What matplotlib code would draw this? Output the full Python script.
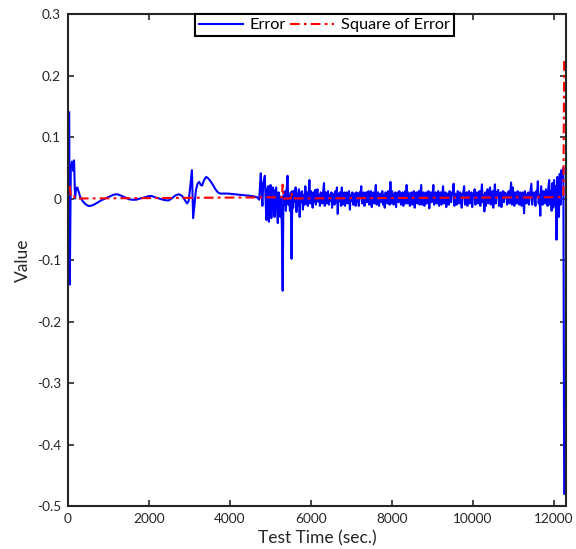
import matplotlib
matplotlib.use("Agg")
import matplotlib.pyplot as plt

plt.rcParams['font.family'] = ['Lato', 'DejaVu Sans']
plt.rcParams['lines.scale_dashes'] = False

# ---- data ----
early_time = [30, 45, 70, 100, 130, 150, 175, 200, 230, 260,
              300, 360, 430, 500, 560, 640, 720, 820, 920, 1020,
              1120, 1210, 1300, 1400, 1500, 1580, 1680, 1780, 1900, 2000,
              2070, 2150, 2250, 2350, 2430, 2490, 2560, 2650, 2740, 2820,
              2900, 2940, 2980, 3020, 3060, 3090, 3130, 3160, 3200, 3240,
              3280, 3310, 3360, 3410, 3460, 3520, 3580, 3640, 3700, 3760,
              3850, 3950, 4100, 4250, 4400, 4550, 4670, 4720]
early_error = [0.140, -0.140, 0.050, 0.060, 0.045, 0.062, 0.000, 0.015, 0.018, 0.012,
               0.003, -0.004, -0.009, -0.012, -0.012, -0.010, -0.007, -0.003, 0.000, 0.003,
               0.006, 0.007, 0.005, 0.002, -0.001, -0.002, -0.002, 0.000, 0.002, 0.004,
               0.004, 0.002, 0.000, -0.002, -0.003, -0.003, 0.000, 0.005, 0.007, 0.004,
               -0.004, -0.008, -0.004, 0.020, 0.046, -0.032, -0.005, 0.014, 0.024, 0.027,
               0.022, 0.021, 0.030, 0.035, 0.033, 0.028, 0.022, 0.015, 0.010, 0.008,
               0.008, 0.008, 0.007, 0.006, 0.005, 0.004, 0.002, -0.002]

noisy_time = [
    4760, 4780, 4800, 4820, 4840, 4860, 4880, 4900, 4920, 4940, 4960, 4980, 5000, 5020, 5040, 5060, 5080, 5100, 5120, 5140,
    5160, 5180, 5200, 5220, 5240, 5260, 5280, 5300, 5320, 5340, 5360, 5380, 5400, 5420, 5440, 5460, 5480, 5500, 5520, 5540,
    5560, 5580, 5600, 5620, 5640, 5660, 5680, 5700, 5720, 5740, 5760, 5780, 5800, 5820, 5840, 5860, 5880, 5900, 5920, 5940,
    5960, 5980, 6000, 6020, 6040, 6060, 6080, 6100, 6120, 6140, 6160, 6180, 6200, 6220, 6240, 6260, 6280, 6300, 6320, 6340,
    6360, 6380, 6400, 6420, 6440, 6460, 6480, 6500, 6520, 6540, 6560, 6580, 6600, 6620, 6640, 6660, 6680, 6700, 6720, 6740,
    6760, 6780, 6800, 6820, 6840, 6860, 6880, 6900, 6920, 6940, 6960, 6980, 7000, 7020, 7040, 7060, 7080, 7100, 7120, 7140,
    7160, 7180, 7200, 7220, 7240, 7260, 7280, 7300, 7320, 7340, 7360, 7380, 7400, 7420, 7440, 7460, 7480, 7500, 7520, 7540,
    7560, 7580, 7600, 7620, 7640, 7660, 7680, 7700, 7720, 7740, 7760, 7780, 7800, 7820, 7840, 7860, 7880, 7900, 7920, 7940,
    7960, 7980, 8000, 8020, 8040, 8060, 8080, 8100, 8120, 8140, 8160, 8180, 8200, 8220, 8240, 8260, 8280, 8300, 8320, 8340,
    8360, 8380, 8400, 8420, 8440, 8460, 8480, 8500, 8520, 8540, 8560, 8580, 8600, 8620, 8640, 8660, 8680, 8700, 8720, 8740,
    8760, 8780, 8800, 8820, 8840, 8860, 8880, 8900, 8920, 8940, 8960, 8980, 9000, 9020, 9040, 9060, 9080, 9100, 9120, 9140,
    9160, 9180, 9200, 9220, 9240, 9260, 9280, 9300, 9320, 9340, 9360, 9380, 9400, 9420, 9440, 9460, 9480, 9500, 9520, 9540,
    9560, 9580, 9600, 9620, 9640, 9660, 9680, 9700, 9720, 9740, 9760, 9780, 9800, 9820, 9840, 9860, 9880, 9900, 9920, 9940,
    9960, 9980, 10000, 10020, 10040, 10060, 10080, 10100, 10120, 10140, 10160, 10180, 10200, 10220, 10240, 10260, 10280, 10300, 10320, 10340,
    10360, 10380, 10400, 10420, 10440, 10460, 10480, 10500, 10520, 10540, 10560, 10580, 10600, 10620, 10640, 10660, 10680, 10700, 10720, 10740,
    10760, 10780, 10800, 10820, 10840, 10860, 10880, 10900, 10920, 10940, 10960, 10980, 11000, 11020, 11040, 11060, 11080, 11100, 11120, 11140,
    11160, 11180, 11200, 11220, 11240, 11260, 11280, 11300, 11320, 11340, 11360, 11380, 11400, 11420, 11440, 11460, 11480, 11500, 11520, 11540,
    11560, 11580, 11600, 11620, 11640, 11660, 11680, 11700, 11720, 11740, 11760, 11780, 11800, 11820, 11840, 11860, 11880, 11900, 11920, 11940,
    11960, 11980, 12000, 12020, 12040, 12060, 12080, 12100, 12120, 12140, 12160, 12180, 12200, 12230, 12250]
noisy_error = [
    0.041, 0.010, -0.012, 0.025, 0.030, 0.037, -0.005, -0.035, 0.015, 0.020, -0.038, 0.005, 0.022, -0.032, -0.010, 0.018, 0.008, -0.030, 0.012, 0.018,
    -0.015, -0.040, 0.010, 0.004, -0.030, 0.002, -0.045, -0.150, 0.005, -0.010, 0.012, -0.020, 0.015, 0.037, -0.010, 0.005, -0.020, 0.010, -0.098, 0.012,
    -0.015, 0.012, -0.005, 0.018, -0.022, 0.008, -0.012, 0.015, -0.030, 0.010, -0.005, 0.012, -0.018, 0.006, -0.010, 0.020, -0.008, 0.010, -0.012, 0.005,
    0.030, -0.008, 0.012, 0.004, -0.015, 0.010, -0.006, 0.014, -0.010, 0.008, 0.015, -0.005, 0.006, -0.012, 0.010, 0.002, -0.008, 0.012, 0.025, -0.012,
    0.010, -0.008, 0.004, 0.012, -0.010, 0.006, -0.004, 0.010, -0.015, 0.008, 0.003, -0.010, 0.012, -0.006, 0.018, -0.025, 0.008, -0.004, 0.010, -0.012,
    0.018, -0.010, 0.005, 0.010, -0.012, 0.004, 0.010, -0.008, 0.006, 0.012, -0.018, 0.006, -0.004, 0.010, -0.010, 0.008, 0.002, -0.012, 0.010, -0.006,
    0.008, -0.012, 0.010, 0.004, 0.020, -0.008, 0.006, 0.010, -0.012, 0.004, 0.010, -0.006, 0.008, 0.012, -0.010, 0.005, 0.012, -0.014, 0.006, 0.010,
    -0.008, 0.006, 0.022, -0.010, 0.008, 0.010, -0.012, 0.004, 0.008, -0.006, 0.012, -0.010, 0.006, -0.015, 0.010, 0.005, -0.008, 0.012, 0.006, -0.010,
    0.027, -0.008, 0.012, 0.004, -0.010, 0.008, 0.010, -0.014, 0.006, 0.010, -0.006, 0.012, 0.004, -0.010, 0.008, 0.010, -0.012, 0.006, 0.012, -0.008,
    0.022, -0.008, 0.010, 0.004, -0.012, 0.008, 0.010, -0.010, 0.005, 0.012, -0.015, 0.006, 0.010, -0.008, 0.004, 0.012, -0.010, 0.006, 0.022, -0.010,
    0.008, 0.010, -0.012, 0.006, 0.010, -0.008, 0.004, 0.012, -0.016, 0.008, 0.010, -0.006, 0.004, 0.022, -0.010, 0.008, 0.010, -0.008, 0.005, 0.012,
    -0.012, 0.008, 0.010, -0.010, 0.006, 0.020, -0.008, 0.004, 0.010, -0.014, 0.008, 0.006, -0.010, 0.012, 0.004, -0.006, 0.010, 0.008, 0.024, -0.012,
    0.008, 0.004, -0.010, 0.012, 0.006, -0.008, 0.010, 0.004, -0.015, 0.008, 0.010, 0.020, -0.010, 0.006, 0.010, -0.012, 0.004, 0.012, -0.008, 0.006,
    0.010, -0.014, 0.008, 0.004, 0.015, -0.010, 0.006, 0.010, -0.008, 0.004, 0.012, -0.012, 0.008, 0.023, -0.006, 0.005, -0.021, 0.010, -0.012, 0.008,
    0.015, -0.008, 0.006, 0.018, -0.010, 0.004, 0.012, -0.015, 0.008, 0.023, -0.008, 0.010, 0.006, 0.014, -0.012, 0.004, 0.010, -0.014, 0.008, 0.012,
    -0.006, 0.010, 0.004, 0.008, -0.010, 0.006, 0.012, -0.008, 0.010, 0.026, -0.010, 0.018, 0.006, -0.012, 0.010, 0.004, -0.008, 0.012, 0.006, -0.010,
    0.010, 0.004, -0.012, 0.010, 0.006, -0.024, 0.012, 0.004, -0.008, 0.006, 0.010, -0.010, 0.004, 0.014, 0.024, -0.010, 0.006, 0.010, 0.004, -0.012,
    0.012, 0.006, 0.028, -0.008, 0.006, -0.028, 0.020, 0.004, -0.010, 0.012, 0.006, -0.008, 0.015, 0.004, -0.012, 0.018, 0.030, -0.010, 0.012, -0.020,
    0.025, -0.015, 0.030, -0.010, 0.020, -0.067, 0.035, 0.010, -0.030, 0.040, -0.010, 0.046, 0.030, 0.050, -0.480]

square_time = [30, 45, 70, 150, 175, 5280, 5300, 5320, 5500, 5520, 5540,
               12200, 12230, 12250]
square_value = [0.0196, 0.0196, 0.0025, 0.0038, 0.0, 0.002, 0.0225, 0.0,
                0.0001, 0.0096, 0.0001, 0.0021, 0.0025, 0.2304]

x_ticks = [0, 2000, 4000, 6000, 8000, 10000, 12000]
y_ticks = [-0.5, -0.4, -0.3, -0.2, -0.1, 0, 0.1, 0.2, 0.3]
y_tick_labels = ['-0.5', '-0.4', '-0.3', '-0.2', '-0.1', '0', '0.1', '0.2', '0.3']

error_time = early_time + noisy_time
error_value = early_error + noisy_error

# ---- figure ----
fig = plt.figure(figsize=(5.76, 5.49), dpi=100)
ax = fig.add_axes([0.118, 0.0783, 0.865, 0.8962])

ax.plot(error_time, error_value, color=(0, 0, 1), lw=1.5, label='Error')
ax.plot(square_time, square_value, color=(1, 0, 0), lw=1.5,
        dashes=(7, 3, 2, 3), label='Square of Error')

ax.set_xlim(0, 12300)
ax.set_ylim(-0.5, 0.3)
ax.set_xticks(x_ticks)
ax.set_xticklabels([str(t) for t in x_ticks])
ax.set_yticks(y_ticks)
ax.set_yticklabels(y_tick_labels)

edge = '#262626'
for s in ax.spines.values():
    s.set_linewidth(1.5)
    s.set_color(edge)
ax.tick_params(direction='in', length=4, width=1.2, color=edge,
               top=True, right=True, labelsize=9.8, labelcolor=edge, pad=5)

ax.set_xlabel('Test Time (sec.)', fontsize=12.5, color=edge, labelpad=4)
ax.set_ylabel('Value', fontsize=12.5, color=edge, labelpad=4)

leg = ax.legend(loc='upper center', bbox_to_anchor=(0.514, 1.0), ncol=2,
                fontsize=11.7, frameon=True, fancybox=False, framealpha=1,
                edgecolor='black', handlelength=2.7, handletextpad=0.4,
                columnspacing=0.3, borderpad=0.25, borderaxespad=0.0)
leg.get_frame().set_linewidth(1.5)
for t in leg.get_texts():
    t.set_color('black')

fig.savefig('out.png', dpi=100)
